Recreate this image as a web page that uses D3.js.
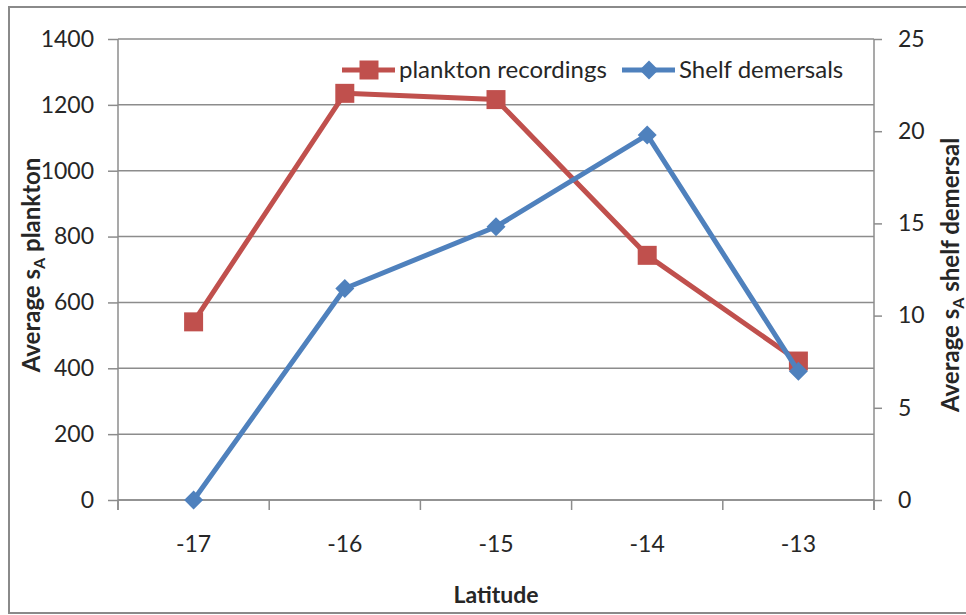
<!DOCTYPE html>
<html>
<head>
<meta charset="utf-8">
<script src="https://cdn.jsdelivr.net/npm/d3@7"></script>
<style>
  html, body { margin: 0; padding: 0; background: #fff; }
  svg { display: block; font-family: Lato, "Open Sans", sans-serif; }
</style>
</head>
<body>
<svg id="chart" width="966" height="615"></svg>
<script>
// Latitude bands (categories along the x axis)
const latitudes = ["-17", "-16", "-15", "-14", "-13"];
// Average sA of plankton recordings (left axis)
const planktonValues = [541, 1235, 1216, 743, 422];
// Average sA of shelf demersals (right axis)
const shelfValues = [0, 11.47, 14.82, 19.8, 6.98];
// Tick labels
const leftTicks = [0, 200, 400, 600, 800, 1000, 1200, 1400];
const rightTicks = [0, 5, 10, 15, 20, 25];

const seriesNames = ["plankton recordings", "Shelf demersals"];
const red = "#C0504D", blue = "#4F81BD";
const gridColor = "#8c8c8c", textColor = "#262626";

const svg = d3.select("#chart");
const plot = { left: 118, right: 874, top: 39, bottom: 500 };

// outer chart frame
svg.append("rect")
  .attr("x", 9).attr("y", 7).attr("width", 970).attr("height", 606)
  .attr("fill", "none").attr("stroke", "#8a8a8a").attr("stroke-width", 2);

const x = d3.scaleBand().domain(latitudes).range([plot.left, plot.right]).paddingInner(0).paddingOuter(0);
const yL = d3.scaleLinear().domain([0, 1400]).range([plot.bottom, plot.top]);
const yR = d3.scaleLinear().domain([0, 25]).range([plot.bottom, plot.top]);

// horizontal gridlines
svg.append("g").selectAll("line").data(leftTicks).join("line")
  .attr("x1", plot.left).attr("x2", plot.right)
  .attr("y1", d => yL(d)).attr("y2", d => yL(d))
  .attr("stroke", gridColor).attr("stroke-width", 1.5);

// left axis
const leftAxis = svg.append("g").attr("transform", `translate(${plot.left},0)`)
  .call(d3.axisLeft(yL).tickValues(leftTicks).tickSize(10).tickPadding(14).tickFormat(d3.format("d")));
// right axis
const rightAxis = svg.append("g").attr("transform", `translate(${plot.right},0)`)
  .call(d3.axisRight(yR).tickValues(rightTicks).tickSize(8).tickPadding(16).tickFormat(d3.format("d")));
// bottom axis: ticks sit on category boundaries, labels at band centres
const xBound = d3.scaleLinear().domain([0, latitudes.length]).range([plot.left, plot.right]);
const bottomAxis = svg.append("g").attr("transform", `translate(0,${plot.bottom})`);
bottomAxis.append("line").attr("x1", plot.left).attr("x2", plot.right)
  .attr("stroke", gridColor).attr("stroke-width", 1.5);
bottomAxis.selectAll("line.tick").data(d3.range(latitudes.length + 1)).join("line")
  .attr("class", "tick")
  .attr("x1", d => xBound(d)).attr("x2", d => xBound(d))
  .attr("y1", 0).attr("y2", 10)
  .attr("stroke", gridColor).attr("stroke-width", 1.5);
bottomAxis.selectAll("text").data(latitudes).join("text")
  .attr("x", d => x(d) + x.bandwidth() / 2).attr("y", 52)
  .attr("text-anchor", "middle").attr("fill", textColor)
  .attr("font-size", 23).text(d => d);

[leftAxis, rightAxis].forEach(g => {
  g.select(".domain").attr("stroke", gridColor).attr("stroke-width", 1.5);
  g.selectAll(".tick line").attr("stroke", gridColor).attr("stroke-width", 1.5);
  g.selectAll(".tick text").attr("fill", textColor).attr("font-size", 23)
    .attr("font-family", "Lato, 'Open Sans', sans-serif");
});
leftAxis.select(".domain").attr("d", `M0,${plot.top}V${plot.bottom + 10}`);
rightAxis.select(".domain").attr("d", `M0,${plot.top}V${plot.bottom + 10}`);

const cx = d => x(d) + x.bandwidth() / 2;
const squareSize = 19 * 19;
const diamondSize = 230;

// plankton series
svg.append("path").datum(planktonValues)
  .attr("fill", "none").attr("stroke", red).attr("stroke-width", 5).attr("stroke-linejoin", "round")
  .attr("d", d3.line().x((d, i) => cx(latitudes[i])).y(d => yL(d)));
svg.append("g").selectAll("path").data(planktonValues).join("path")
  .attr("transform", (d, i) => `translate(${cx(latitudes[i])},${yL(d)})`)
  .attr("d", d3.symbol(d3.symbolSquare, squareSize)).attr("fill", red);

// shelf demersal series
svg.append("path").datum(shelfValues)
  .attr("fill", "none").attr("stroke", blue).attr("stroke-width", 5).attr("stroke-linejoin", "round")
  .attr("d", d3.line().x((d, i) => cx(latitudes[i])).y(d => yR(d)));
svg.append("g").selectAll("path").data(shelfValues).join("path")
  .attr("transform", (d, i) => `translate(${cx(latitudes[i])},${yR(d)})`)
  .attr("d", d3.symbol(d3.symbolDiamond2, diamondSize)).attr("fill", blue);

// legend
const legend = svg.append("g").attr("transform", "translate(342,70)");
const legendItems = [
  { name: seriesNames[0], color: red, symbol: d3.symbolSquare, size: squareSize, dx: 0 },
  { name: seriesNames[1], color: blue, symbol: d3.symbolDiamond2, size: diamondSize, dx: 280 }
];
legendItems.forEach(it => {
  const g = legend.append("g").attr("transform", `translate(${it.dx},0)`);
  g.append("line").attr("x1", 0).attr("x2", 53).attr("stroke", it.color).attr("stroke-width", 5);
  g.append("path").attr("transform", "translate(27,0)").attr("d", d3.symbol(it.symbol, it.size)).attr("fill", it.color);
  g.append("text").attr("x", 57).attr("y", 8).attr("fill", textColor).attr("font-size", 24).text(it.name);
});

// axis titles
const leftTitle = svg.append("text")
  .attr("transform", "translate(40,265) rotate(-90)")
  .attr("text-anchor", "middle").attr("font-weight", "bold").attr("font-size", 24).attr("fill", textColor);
leftTitle.append("tspan").text("Average s");
leftTitle.append("tspan").attr("font-size", 16).attr("dy", 5).text("A");
leftTitle.append("tspan").attr("dy", -5).text(" plankton");

const rightTitle = svg.append("text")
  .attr("transform", "translate(959,275) rotate(-90)")
  .attr("text-anchor", "middle").attr("font-weight", "bold").attr("font-size", 24).attr("fill", textColor);
rightTitle.append("tspan").text("Average s");
rightTitle.append("tspan").attr("font-size", 16).attr("dy", 5).text("A");
rightTitle.append("tspan").attr("dy", -5).text(" shelf demersal");

svg.append("text").attr("x", (plot.left + plot.right) / 2).attr("y", 603)
  .attr("text-anchor", "middle").attr("font-weight", "bold").attr("font-size", 23)
  .attr("fill", textColor).text("Latitude");
</script>
</body>
</html>
